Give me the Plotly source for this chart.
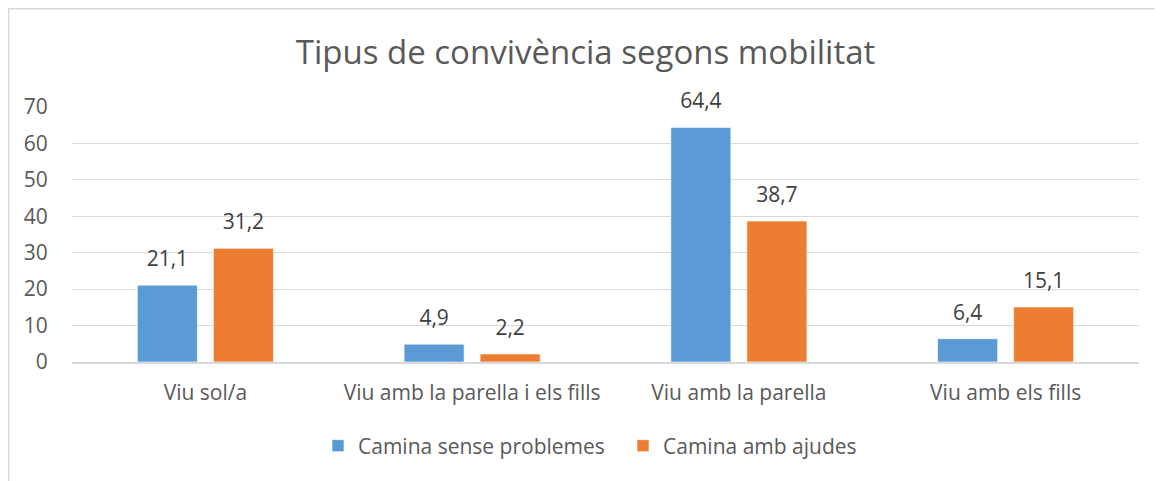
import plotly.graph_objects as go

categories = ["Viu sol/a", "Viu amb la parella i els fills", "Viu amb la parella", "Viu amb els fills"]
sense_problemes = [21.1, 4.9, 64.4, 6.4]
amb_ajudes = [31.2, 2.2, 38.7, 15.1]
series_names = ["Camina sense problemes", "Camina amb ajudes"]
y_ticks = [0, 10, 20, 30, 40, 50, 60, 70]

FONT = "Open Sans"
LABEL_TPL = "<span style='font-size:21px'>%{y:.1f}</span><br> "

fig = go.Figure()
fig.add_trace(go.Bar(
    x=categories, y=sense_problemes, name=series_names[0],
    marker=dict(color="#5B9BD5", line=dict(color="rgba(255,255,255,0.6)", width=1)),
    texttemplate=LABEL_TPL, textposition="outside", cliponaxis=False,
    textfont=dict(family=FONT, size=10, color="#404040"),
))
fig.add_trace(go.Bar(
    x=categories, y=amb_ajudes, name=series_names[1],
    marker=dict(color="#ED7D31", line=dict(color="rgba(255,255,255,0.6)", width=1)),
    texttemplate=LABEL_TPL, textposition="outside", cliponaxis=False,
    textfont=dict(family=FONT, size=10, color="#404040"),
))

# page body has an 8px margin, so the figure is drawn 8px in from the window edge
W, H = 1155, 473
L, R, T, B = 64, 24, 99, 119
pw = W - L - R
ph = H - T - B

fig.update_layout(
    width=W, height=H,
    margin=dict(l=L, r=R, t=T, b=B),
    paper_bgcolor="white", plot_bgcolor="white",
    separators=",.",
    barmode="group", bargap=0.43, bargroupgap=0.21,
    title=dict(text="Tipus de convivència segons mobilitat", x=0.5, xanchor="center",
               y=1 - 44 / H, yanchor="middle",
               font=dict(family=FONT, size=33, color="#595959")),
    font=dict(family=FONT, size=21, color="#595959"),
    showlegend=True,
    legend=dict(orientation="h", x=(333 - 8 - 15 - L) / pw, xanchor="left", y=-84 / ph,
                yanchor="middle", font=dict(family=FONT, size=21, color="#595959"),
                itemwidth=30, entrywidth=260, traceorder="normal"),
    xaxis=dict(showgrid=False, showline=True, linecolor="#D9D9D9", linewidth=2,
               ticks="outside", ticklen=11, tickcolor="rgba(0,0,0,0)",
               tickfont=dict(family=FONT, size=21, color="#595959")),
    yaxis=dict(range=[0, 70], tickvals=y_ticks, showgrid=True, gridcolor="#D9D9D9",
               gridwidth=1, zeroline=False, showline=False,
               ticks="outside", ticklen=19, tickcolor="rgba(0,0,0,0)",
               tickfont=dict(family=FONT, size=21, color="#595959")),
    shapes=[
        dict(type="line", xref="paper", yref="paper",
             x0=-L / pw, x1=(W - L) / pw, y0=(ph + T - 0.5) / ph, y1=(ph + T - 0.5) / ph,
             line=dict(color="#D9D9D9", width=2)),
        dict(type="line", xref="paper", yref="paper",
             x0=(0.5 - L) / pw, x1=(0.5 - L) / pw, y0=(ph + T) / ph, y1=-B / ph,
             line=dict(color="#D9D9D9", width=2)),
    ],
)

fig.write_html("out.html")
